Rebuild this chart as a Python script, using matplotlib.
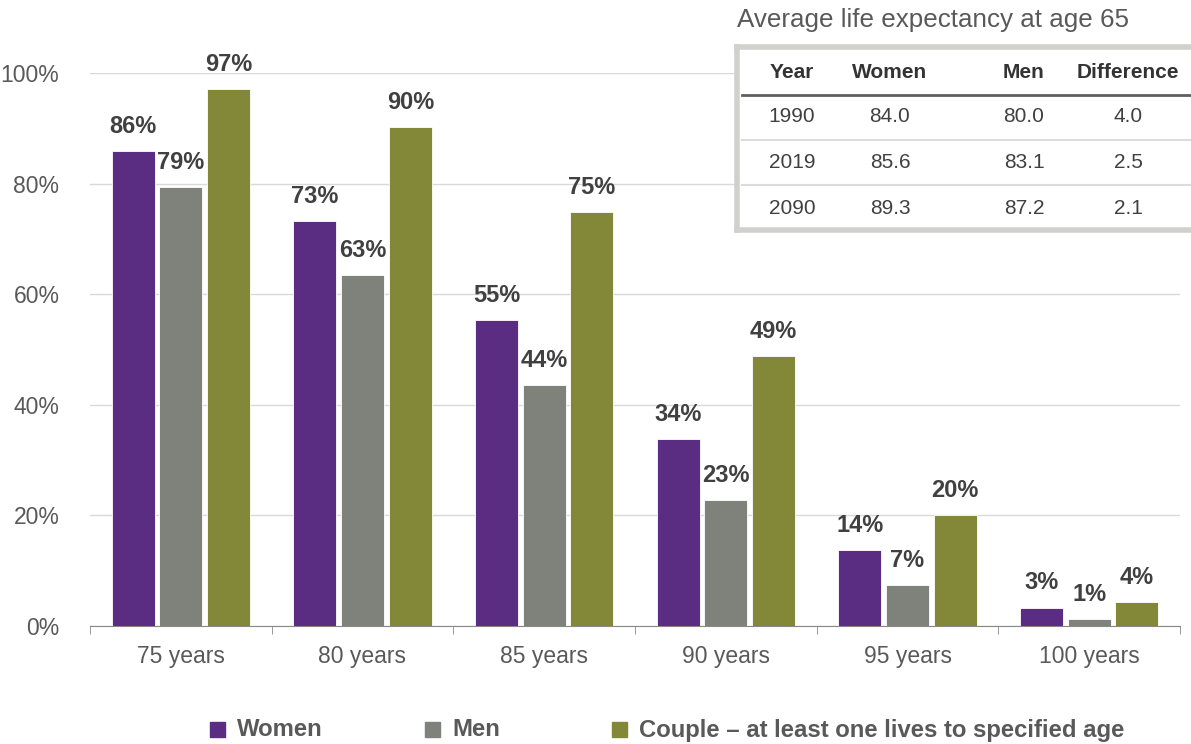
import numpy as np
import matplotlib.pyplot as plt
from matplotlib.patches import Rectangle

plt.rcParams['font.family'] = ['Liberation Sans', 'DejaVu Sans']

# survival probabilities from age 65
ages = ['75 years', '80 years', '85 years', '90 years', '95 years', '100 years']
women = [0.859, 0.732, 0.553, 0.338, 0.137, 0.033]
men = [0.794, 0.635, 0.436, 0.228, 0.074, 0.013]
couple = [0.971, 0.902, 0.749, 0.488, 0.201, 0.043]
women_lbl = ['86%', '73%', '55%', '34%', '14%', '3%']
men_lbl = ['79%', '63%', '44%', '23%', '7%', '1%']
couple_lbl = ['97%', '90%', '75%', '49%', '20%', '4%']

# life expectancy table
tbl_head = ['Year', 'Women', 'Men', 'Difference']
tbl_years = ['1990', '2019', '2090']
tbl_women = ['84.0', '85.6', '89.3']
tbl_men = ['80.0', '83.1', '87.2']
tbl_diff = ['4.0', '2.5', '2.1']

c_women = '#5a2c82'
c_men = '#7f827b'
c_couple = '#838838'
txt = '#595959'
lbl = '#404040'

W, H = 1191, 744
fig = plt.figure(figsize=(W / 100, H / 100), dpi=100)
ax = fig.add_axes([90 / W, 1 - 626 / H, 1090 / W, 553 / H])

x = np.arange(len(ages))
bw = 0.237
off = 0.263
for vals, labs, dx, col in [(women, women_lbl, -off, c_women),
                            (men, men_lbl, 0, c_men),
                            (couple, couple_lbl, off, c_couple)]:
    ax.bar(x + dx, vals, bw, color=col, zorder=3, edgecolor='white', linewidth=0.6)
    for xi, v, s in zip(x + dx, vals, labs):
        ax.text(xi, v + 0.024, s, ha='center', va='bottom', fontsize=17,
                fontweight='bold', color=lbl, clip_on=False)

ax.set_xlim(-0.5, len(ages) - 0.5)
ax.set_ylim(0, 1.0)
ax.set_yticks([0, 0.2, 0.4, 0.6, 0.8, 1.0])
ax.set_yticklabels(['0%', '20%', '40%', '60%', '80%', '100%'])
ax.yaxis.grid(True, color='#d9d9d9', linewidth=1, zorder=0)
ax.set_xticks(x)
ax.set_xticklabels(ages)
ax.set_xticks(np.arange(-0.5, len(ages)), minor=True)
ax.tick_params(axis='x', which='major', length=0, pad=14, labelsize=16.5, labelcolor=txt)
ax.tick_params(axis='x', which='minor', length=6, color='#888888')
ax.tick_params(axis='y', length=0, pad=22, labelsize=16.5, labelcolor=txt)
for sp in ['top', 'right', 'left']:
    ax.spines[sp].set_visible(False)
ax.spines['bottom'].set_color('#888888')
ax.set_axisbelow(True)

# legend at the bottom
leg = [(210, 'Women', c_women), (425, 'Men', c_men),
       (612, 'Couple \u2013 at least one lives to specified age', c_couple)]
for px, name, col in leg:
    fig.patches.append(Rectangle((px / W, 1 - 737 / H), 15 / W, 15 / H,
                                 transform=fig.transFigure, color=col))
    fig.text((px + 27) / W, 1 - 730 / H, name, ha='left', va='center',
             fontsize=17.2, fontweight='bold', color=txt)

# inset table
fig.text(737 / W, 1 - 20 / H, 'Average life expectancy at age 65', ha='left',
         va='center', fontsize=18.7, color=txt)
tax = fig.add_axes([737 / W, 1 - 230 / H, 470 / W, 183 / H])
tax.set_xlim(735, 1205)
tax.set_ylim(230, 47)
tax.set_xticks([])
tax.set_yticks([])
tax.set_facecolor('white')
for sp in tax.spines.values():
    sp.set_color('#d0d0cc')
    sp.set_linewidth(4)
cols_x = [790, 888, 1022, 1126]
for cx, h in zip(cols_x, tbl_head):
    tax.text(cx, 72, h, ha='center', va='center', fontsize=15,
             fontweight='bold', color='#333333')
tax.plot([740, 1205], [95, 95], color='#5f5f5f', linewidth=2)
rows_y = [117, 163, 208]
for ry, cells in zip(rows_y, zip(tbl_years, tbl_women, tbl_men, tbl_diff)):
    for cx, s in zip(cols_x, cells):
        tax.text(cx, ry, s, ha='center', va='center', fontsize=15, color=lbl)
for ly in [140, 185]:
    tax.plot([740, 1205], [ly, ly], color='#dcdcdc', linewidth=1.5)

fig.savefig('out.png', dpi=100)
